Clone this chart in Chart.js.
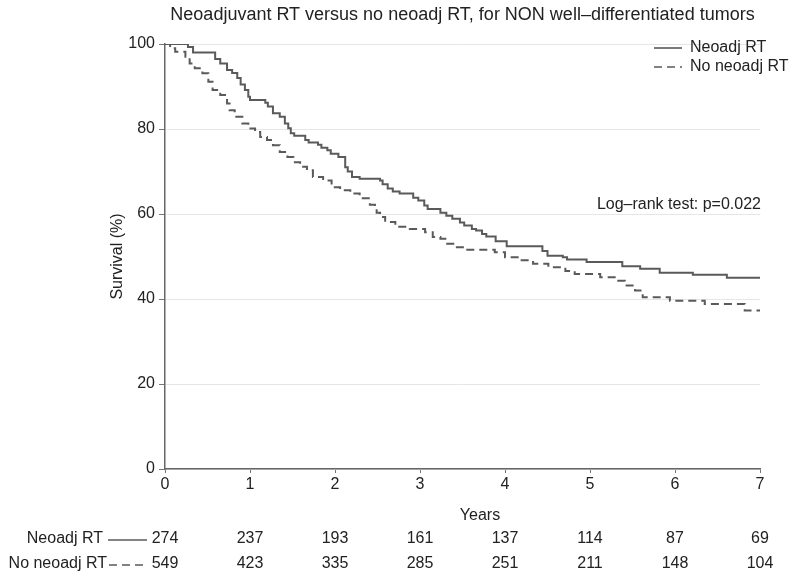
<!DOCTYPE html>
<html lang="en">
<head>
  <meta charset="UTF-8" />
  <title>Neoadjuvant RT survival</title>
  <script src="https://cdn.jsdelivr.net/npm/chart.js"></script>
  <style>
    body { margin: 0; background: #fff; }
    #wrap { width: 800px; height: 580px; }
  </style>
</head>
<body>
  <div id="wrap"><canvas id="kmChart" width="800" height="580"></canvas></div>

  <script>
    // Kaplan-Meier steps (years, survival %)
    const neoTimes = [0, 0.27, 0.33, 0.59, 0.65, 0.73, 0.79, 0.85, 0.89, 0.94, 0.98, 1.0, 1.18, 1.21, 1.27, 1.35, 1.41, 1.45, 1.48, 1.52, 1.65, 1.69, 1.80, 1.84, 1.91, 1.95, 2.04, 2.12, 2.15, 2.2, 2.29, 2.53, 2.56, 2.62, 2.68, 2.76, 2.92, 2.98, 3.05, 3.09, 3.24, 3.31, 3.38, 3.47, 3.52, 3.61, 3.66, 3.73, 3.78, 3.89, 4.02, 4.44, 4.5, 4.68, 4.73, 4.96, 5.38, 5.59, 5.82, 6.21, 6.61, 7.0];
    const neoSurv  = [100, 99.3, 98, 96.5, 95.4, 93.9, 93.2, 92, 90.5, 89.2, 87.6, 86.8, 86.2, 85.3, 83.7, 82.9, 81.3, 80.2, 79, 78.4, 77.4, 76.8, 76.3, 75.6, 75, 74.2, 73.4, 71, 70, 68.7, 68.3, 67.9, 67, 66, 65.3, 64.8, 63.8, 63.2, 62, 61.2, 60.3, 59.6, 58.9, 58, 57.3, 56.5, 56.1, 55.3, 54.7, 53.6, 52.4, 51.3, 50.2, 49.8, 49.3, 48.7, 47.7, 47.1, 46.2, 45.7, 45.0, 45.0];

    const noTimes = [0, 0.06, 0.12, 0.24, 0.29, 0.35, 0.44, 0.51, 0.56, 0.65, 0.73, 0.76, 0.82, 0.91, 0.98, 1.06, 1.12, 1.2, 1.27, 1.35, 1.44, 1.51, 1.59, 1.67, 1.74, 1.86, 1.96, 2.06, 2.18, 2.29, 2.41, 2.47, 2.49, 2.53, 2.59, 2.71, 2.88, 3.06, 3.15, 3.24, 3.32, 3.41, 3.53, 3.88, 4.0, 4.18, 4.33, 4.51, 4.71, 4.82, 5.12, 5.29, 5.41, 5.53, 5.62, 5.94, 6.35, 6.82, 7.0];
    const noSurv  = [100, 99, 98.2, 97, 95.4, 94.3, 93.1, 91.1, 89.2, 88, 86, 84.4, 82.9, 81.3, 80.1, 79.3, 78.1, 77.4, 76.2, 74.6, 73.4, 72.2, 71.1, 70.3, 68.7, 67.9, 66.3, 65.6, 64.8, 63.7, 62.2, 61.5, 60.3, 59.3, 58.1, 57.0, 56.5, 55.7, 54.6, 54.2, 53, 52.2, 51.6, 51.0, 49.8, 49.1, 48.3, 47.5, 46.6, 45.9, 45.1, 44.3, 43.2, 42, 40.4, 39.6, 38.8, 37.3, 37.3];

    // numbers at risk at each year
    const riskYears = [0, 1, 2, 3, 4, 5, 6, 7];
    const neoAtRisk = [274, 237, 193, 161, 137, 114, 87, 69];
    const noAtRisk  = [549, 423, 335, 285, 251, 211, 148, 104];

    const seriesLabels = ['Neoadj RT', 'No neoadj RT'];
    const titleText = 'Neoadjuvant RT versus no neoadj RT, for NON well\u2013differentiated tumors';
    const noteText = 'Log\u2013rank test: p=0.022';

    const FONT = '"Liberation Sans", Arial, sans-serif';
    const lineColor = '#5a5a5a';

    function toPoints(times, surv) {
      return times.map((t, i) => ({ x: t, y: surv[i] }));
    }

    // draws title, axis titles, legend, note and the at-risk table
    const extrasPlugin = {
      id: 'extras',
      afterDraw(chart) {
        const ctx = chart.ctx;
        const area = chart.chartArea;
        const xs = chart.scales.x;
        ctx.save();
        ctx.fillStyle = '#222';
        ctx.textBaseline = 'middle';

        ctx.textAlign = 'center';
        ctx.font = '18px ' + FONT;
        ctx.fillText(titleText, (area.left + area.right) / 2, 15);

        ctx.font = '16px ' + FONT;
        ctx.fillText('Years', 480, 516);

        ctx.save();
        ctx.translate(118, (area.top + area.bottom) / 2);
        ctx.rotate(-Math.PI / 2);
        ctx.fillText('Survival (%)', 0, 0);
        ctx.restore();

        ctx.textAlign = 'right';
        ctx.fillText(noteText, 761, 205);

        // legend
        ctx.textAlign = 'left';
        chart.data.datasets.forEach((ds, i) => {
          const y = 48 + i * 19;
          ctx.strokeStyle = ds.borderColor;
          ctx.lineWidth = 1.6;
          ctx.setLineDash(ds.borderDash || []);
          ctx.beginPath();
          ctx.moveTo(654, y);
          ctx.lineTo(682, y);
          ctx.stroke();
          ctx.setLineDash([]);
          ctx.fillText(ds.label, 690, y);
        });

        // at-risk table
        const rows = [
          { label: seriesLabels[0], counts: neoAtRisk, dash: [], y: 539 },
          { label: seriesLabels[1], counts: noAtRisk, dash: [8, 5], y: 564 }
        ];
        rows.forEach(r => {
          ctx.textAlign = 'right';
          ctx.fillText(r.label, r.dash.length ? 107 : 103, r.y);
          ctx.strokeStyle = lineColor;
          ctx.lineWidth = 1.4;
          ctx.setLineDash(r.dash);
          ctx.beginPath();
          ctx.moveTo(r.dash.length ? 109 : 108, r.y + 1);
          ctx.lineTo(147, r.y + 1);
          ctx.stroke();
          ctx.setLineDash([]);
          ctx.textAlign = 'center';
          riskYears.forEach((yr, i) => {
            ctx.fillText(String(r.counts[i]), xs.getPixelForValue(yr), r.y);
          });
        });
        ctx.restore();
      }
    };

    const ctx = document.getElementById('kmChart').getContext('2d');
    new Chart(ctx, {
      type: 'line',
      data: {
        datasets: [{
          label: seriesLabels[0],
          data: toPoints(neoTimes, neoSurv),
          borderColor: lineColor,
          borderWidth: 2,
          stepped: true,
          pointRadius: 0,
          fill: false
        }, {
          label: seriesLabels[1],
          data: toPoints(noTimes, noSurv),
          borderColor: lineColor,
          borderWidth: 2,
          borderDash: [8, 5],
          stepped: true,
          pointRadius: 0,
          fill: false
        }]
      },
      options: {
        responsive: false,
        animation: false,
        layout: { padding: { top: 44, right: 40, left: 0, bottom: 0 } },
        plugins: {
          legend: { display: false },
          tooltip: { enabled: false },
          title: { display: false }
        },
        scales: {
          x: {
            type: 'linear',
            min: 0,
            max: 7,
            ticks: { stepSize: 1, color: '#222', font: { size: 16, family: FONT }, padding: 2 },
            grid: { drawOnChartArea: false, tickLength: 4, tickColor: '#777' },
            border: { color: '#666', width: 1.5 },
            afterFit(scale) { scale.height = 111; }
          },
          y: {
            min: 0,
            max: 100,
            ticks: { stepSize: 20, color: '#222', font: { size: 16, family: FONT }, padding: 4 },
            grid: { color: '#e6e6e6', tickColor: '#777', tickLength: 6 },
            border: { color: '#666', width: 1.5 },
            afterFit(scale) { scale.width = 165; }
          }
        }
      },
      plugins: [extrasPlugin]
    });
  </script>
</body>
</html>
